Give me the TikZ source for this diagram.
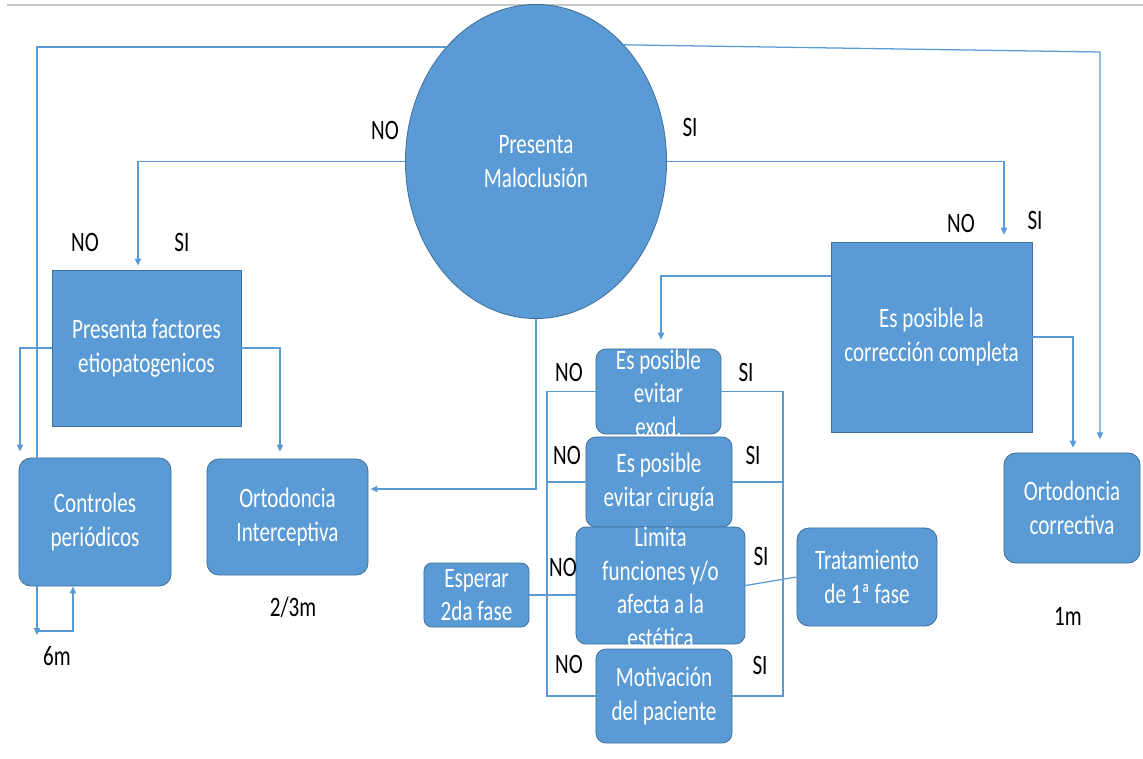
\documentclass[tikz,border=0pt]{standalone}
\usepackage{fontspec}
\setmainfont{Carlito}[FakeStretch=0.75]
\usetikzlibrary{shapes.geometric,arrows.meta}
\definecolor{boxblue}{HTML}{5B9BD5}
\definecolor{boxedge}{HTML}{41719C}
\tikzset{%
  sqbox/.style={draw=boxedge,fill=boxblue,text=white,align=center,inner sep=0,line width=0.6pt},
  rbox/.style={sqbox,rounded corners=0.3cm},
  oval/.style={sqbox,shape=ellipse},
  flow/.style={draw=boxblue,line width=0.9pt},
  arr/.style={flow,-{Triangle[length=5pt,width=4.5pt]}},
  tag/.style={text=black,inner sep=0}
}
% text that is taller than its box
\newcommand{\spill}[1]{\smash{\raisebox{-8.5pt}{\begin{tabular}{@{}c@{}}#1\end{tabular}}}}

\begin{document}
\begin{tikzpicture}[x=0.025cm,y=-0.025cm,every node/.style={font=\fontsize{20}{24}\selectfont}]
    \useasboundingbox (0,0) rectangle (1143,758);
    \draw[draw=black!22,line width=1.2pt] (7,5) -- (1143,5);
    \path
      (536,161.5) node[oval,minimum width=6.525cm,minimum height=7.85cm] (mal) {Presenta\\Maloclusión}
      (146.5,348) node[sqbox,minimum width=4.725cm,minimum height=3.9cm] (fac) {Presenta factores\\etiopatogenicos}
      (931.5,337) node[sqbox,minimum width=5.025cm,minimum height=4.75cm] (cor) {Es posible la\\corrección completa}
      (95,522) node[rbox,minimum width=3.8cm,minimum height=3.2cm] (ctrl) {Controles\\periódicos}
      (287.5,517) node[rbox,minimum width=4.025cm,minimum height=2.9cm] (inter) {Ortodoncia\\Interceptiva}
      (1072,508) node[rbox,minimum width=3.4cm,minimum height=2.75cm] (orc) {Ortodoncia\\correctiva}
      (867,577) node[rbox,minimum width=3.5cm,minimum height=2.45cm] (tra) {Tratamiento\\de 1ª fase}
      (659,482) node[rbox,rounded corners=0.25cm,minimum width=3.65cm,minimum height=2.25cm] (cir) {Es posible\\evitar cirugía}
      (664,696) node[rbox,rounded corners=0.25cm,minimum width=3.4cm,minimum height=2.35cm] (mot) {Motivación\\del paciente}
      (658.5,391.5) node[rbox,rounded corners=0.25cm,minimum width=3.125cm,minimum height=2.125cm] (exo) {\spill{Es posible\\evitar\\exod.}}
      (660.5,585.5) node[rbox,rounded corners=0.25cm,minimum width=4.225cm,minimum height=2.925cm] (lim) {\spill{Limita\\funciones y/o\\afecta a la\\estética}}
      (476.5,595) node[rbox,rounded corners=0.2cm,minimum width=2.625cm,minimum height=1.6cm] (esp) {Esperar\\2da fase};
    % yes / no tags
    \node[tag] (tno) at (385,130) {NO};
    \node[tag] (tsi) at (690,127) {SI};
    \node[tag] (fno) at (85,242) {NO};
    \node[tag] (fsi) at (182,242) {SI};
    \node[tag] (cno) at (961,223) {NO};
    \node[tag] (csi) at (1035,220) {SI};
    \node[tag] (eno) at (569,372) {NO};
    \node[tag] (esi) at (746,372) {SI};
    \node[tag] (gno) at (567,455) {NO};
    \node[tag] (gsi) at (753,455) {SI};
    \node[tag] (lno) at (563,567) {NO};
    \node[tag] (lsi) at (761,556) {SI};
    \node[tag] (mno) at (569,664) {NO};
    \node[tag] (msi) at (760,665) {SI};
    \node[tag] (six) at (57,656) {6m};
    \node[tag] (two) at (293,607) {2/3m};
    \node[tag] (one) at (1068,616) {1m};
    % corner points
    \coordinate (tl) at (37,47);
    \coordinate (tr) at (1100,52);
    \coordinate (nol) at (138,161.5);
    \coordinate (sir) at (1004,161.5);
    \coordinate (fl) at (20,348);
    \coordinate (fr) at (280,348);
    \coordinate (lp) at (37,631);
    \coordinate (lq) at (73,631);
    \coordinate (mi) at (536,489);
    \coordinate (cr) at (1073,337);
    \coordinate (cl) at (661,276);
    \coordinate (bL) at (547,0);
    \coordinate (bR) at (783,0);
    % connectors
    \draw[flow] (ctrl.north -| tl) -- (tl) -- (tl -| mal.128);
    \draw[arr,shorten >=0.33cm] (mal.53) -- (tr) -- (tr |- orc.north);
    \draw[arr,shorten >=0.1cm] (mal.west) -- (nol) -- (nol |- fac.north);
    \draw[arr,shorten >=0.17cm] (mal.east) -- (sir) -- (sir |- cor.north);
    \draw[arr,shorten >=0.15cm] (fac.west) -- (fl) -- (fl |- ctrl.north);
    \draw[arr,shorten >=0.17cm] (fac.east) -- (fr) -- (fr |- inter.north);
    \draw[arr] (ctrl.south -| lp) -- ([yshift=-0.1cm]lp);
    \draw[arr] (lp) -- (lq) -- (lq |- ctrl.south);
    \draw[arr,shorten >=0.05cm] (mal.south) -- (mi) -- (mi -| inter.east);
    \draw[arr,shorten >=0.12cm] (cor.east) -- (cr) -- (cr |- orc.north);
    \draw[arr,shorten >=0.22cm] (cl -| cor.west) -- (cl) -- (cl |- exo.north);
    \draw[flow] (exo.west) -- (exo.west -| bL) -- (mot.west -| bL) -- (mot.west);
    \draw[flow] (cir.west) -- (cir.west -| bL);
    \draw[flow] (exo.east) -- (exo.east -| bR) -- (mot.east -| bR) -- (mot.east);
    \draw[flow] (cir.east) -- (cir.east -| bR);
    \draw[flow] (esp.east) -- (esp.east -| lim.west);
    \draw[flow] (lim.east) -- (tra.west);
\end{tikzpicture}
\end{document}
